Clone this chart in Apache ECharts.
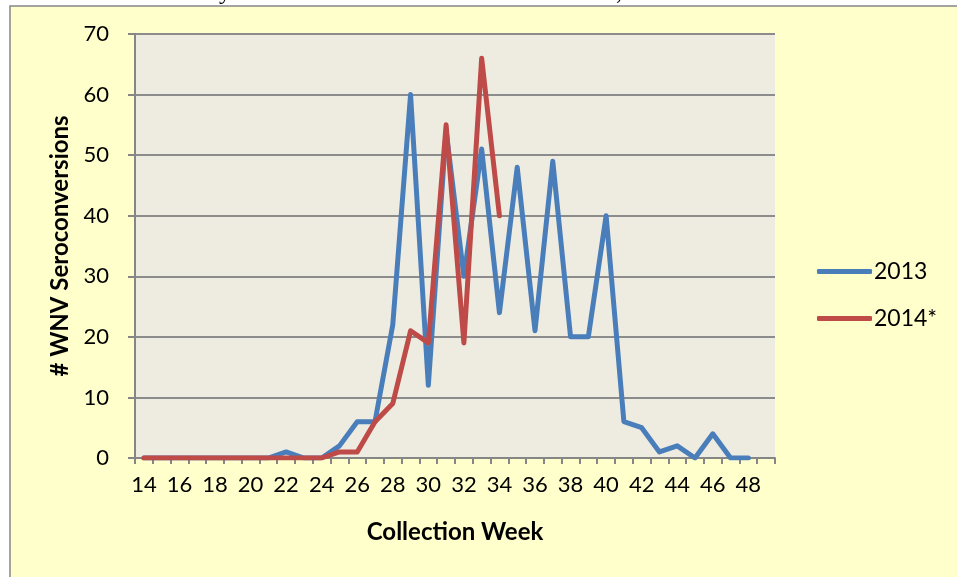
<!DOCTYPE html>
<html>
<head>
<meta charset="utf-8">
<script src="https://cdn.jsdelivr.net/npm/echarts@6/dist/echarts.min.js"></script>
<style>
html,body{margin:0;padding:0;background:#ffffff;}
#chart{width:957px;height:577px;}
</style>
</head>
<body>
<div id="chart"></div>
<script>
// Collection weeks (category axis, 14..49)
const weeks = [];
for (let w = 14; w <= 49; w++) weeks.push(String(w));

const seriesNames = ['2013', '2014*'];

// 2013: weeks 14..48
const values2013 = [0, 0, 0, 0, 0, 0, 0, 0, 1, 0, 0, 2, 6, 6, 22, 60, 12, 54, 30, 51, 24, 48, 21, 49, 20, 20, 40, 6, 5, 1, 2, 0, 4, 0, 0];
// 2014*: weeks 14..34
const values2014 = [0, 0, 0, 0, 0, 0, 0, 0, 0, 0, 0, 1, 1, 6, 9, 21, 19, 55, 19, 66, 40];

const yTicks = [0, 10, 20, 30, 40, 50, 60, 70];

const FONT = 'Lato, "Open Sans", sans-serif';
const chart = echarts.init(document.getElementById('chart'), null, {renderer: 'canvas'});

chart.setOption({
  animation: false,
  backgroundColor: '#ffffff',
  textStyle: {fontFamily: FONT},
  graphic: [
    {
      type: 'rect', z: -10, silent: true,
      shape: {x: 10, y: 6, width: 960, height: 590},
      style: {fill: '#FFFFCC', stroke: '#868686', lineWidth: 1.5}
    },
    {
      type: 'text', z: -5, silent: true, left: 219, top: -19,
      style: {text: 'y', font: '24px "Liberation Serif", serif', fill: '#000'}
    },
    {
      type: 'text', z: -5, silent: true, left: 616, top: -19,
      style: {text: ',', font: '24px "Liberation Serif", serif', fill: '#000'}
    }
  ],
  legend: {
    orient: 'vertical',
    left: 812,
    top: 255,
    itemWidth: 55,
    itemHeight: 5,
    itemGap: 24,
    icon: 'roundRect',
    textStyle: {fontFamily: FONT, fontSize: 23, color: '#000', padding: [0, 0, 0, -3]},
    data: seriesNames
  },
  grid: {
    left: 135, right: 182, top: 34, bottom: 119,
    show: true, backgroundColor: '#EEECE1', borderWidth: 0,
    containLabel: false
  },
  xAxis: {
    type: 'category',
    data: weeks,
    boundaryGap: true,
    name: 'Collection Week',
    nameLocation: 'middle',
    nameGap: 62,
    nameTextStyle: {fontFamily: FONT, fontSize: 24, fontWeight: 'bold', color: '#000'},
    axisLine: {lineStyle: {color: '#868686', width: 2}},
    axisTick: {show: true, interval: 0, length: 6, lineStyle: {color: '#868686', width: 2}},
    axisLabel: {interval: 1, margin: 16, fontFamily: FONT, fontSize: 22, color: '#000'},
    splitLine: {show: false}
  },
  yAxis: {
    type: 'value',
    min: 0, max: 70, interval: 10,
    name: '# WNV Seroconversions',
    nameLocation: 'middle',
    nameGap: 61,
    nameTextStyle: {fontFamily: FONT, fontSize: 24, fontWeight: 'bold', color: '#000'},
    axisLine: {show: true, lineStyle: {color: '#868686', width: 2}},
    axisTick: {show: true, length: 7, lineStyle: {color: '#868686', width: 2}},
    axisLabel: {margin: 26, fontFamily: FONT, fontSize: 22, color: '#000',
      formatter: v => yTicks.includes(v) ? String(v) : ''},
    splitLine: {show: true, lineStyle: {color: '#8C8C8C', width: 2}}
  },
  series: [
    {
      name: seriesNames[0], type: 'line', data: values2013,
      symbol: 'none', color: '#4A7EBB',
      lineStyle: {width: 5, color: '#4A7EBB', cap: 'round', join: 'round'}
    },
    {
      name: seriesNames[1], type: 'line', data: values2014,
      symbol: 'none', color: '#BE4B48',
      lineStyle: {width: 5, color: '#BE4B48', cap: 'round', join: 'round'}
    }
  ]
});
</script>
</body>
</html>
